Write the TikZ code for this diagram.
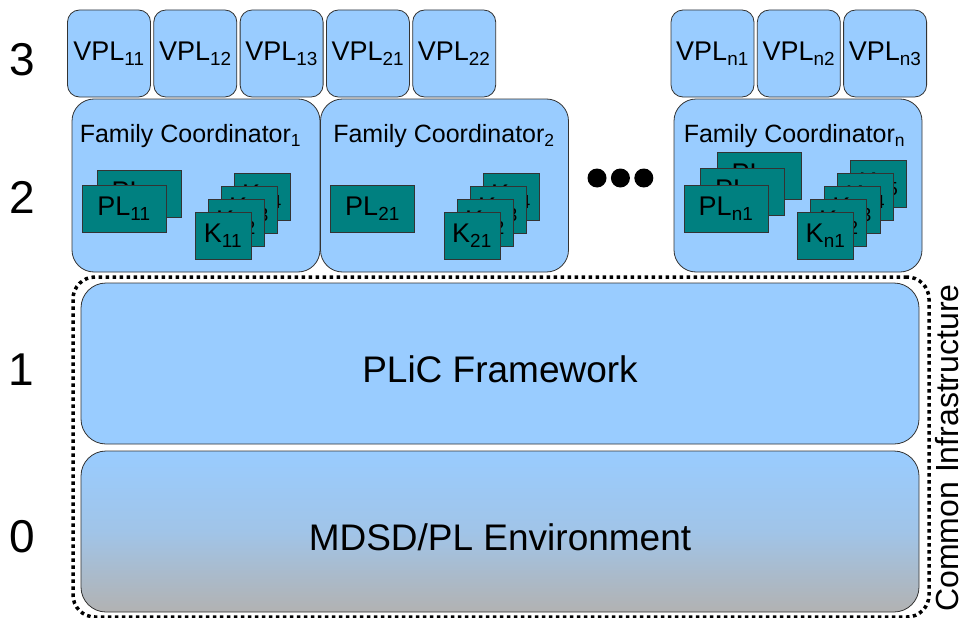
\documentclass[tikz,border=0pt]{standalone}
\usepackage{fontspec}
\setmainfont{Liberation Sans}
\usepackage{tikz}
\usetikzlibrary{positioning}
\definecolor{plblue}{RGB}{153,204,255}
\definecolor{plteal}{RGB}{0,128,128}
\definecolor{plgrey}{RGB}{178,178,178}

\begin{document}
\begin{tikzpicture}[x=1pt, y=-1pt,
  vpl/.style={rectangle, rounded corners=12pt, draw=black!80, line width=0.8pt, fill=plblue,
              minimum width=83pt, minimum height=87pt, inner sep=0pt, font=\fontsize{27}{30}\selectfont},
  fam/.style={rectangle, rounded corners=22pt, draw=black!80, line width=0.8pt, fill=plblue,
              minimum width=248pt, minimum height=173pt, inner sep=0pt},
  famlabel/.style={anchor=base west, inner sep=0pt, font=\fontsize{25}{28}\selectfont},
  pltile/.style={rectangle, draw=black!80, line width=0.8pt, fill=plteal,
              minimum width=84pt, minimum height=47pt, inner sep=0pt, font=\fontsize{27}{30}\selectfont},
  ktile/.style={pltile, minimum width=56pt},
  layer/.style={rectangle, rounded corners=25pt, draw=black!80, line width=0.8pt, fill=plblue,
              minimum width=838pt, minimum height=161pt, text height=38pt, text depth=0pt,
              font=\fontsize{37}{40}\selectfont},
  lvl/.style={font=\fontsize{46}{48}\selectfont, inner sep=0pt},
  dotnode/.style={circle, fill=black, minimum size=19pt, inner sep=0pt}]
\useasboundingbox (0,0) rectangle (964,618);

% level 3: VPLs
\node[vpl] (v11) at (109,53.5) {VPL\textsubscript{11}};
\node[vpl, right=2.5pt of v11] (v12) {VPL\textsubscript{12}};
\node[vpl, right=2.5pt of v12] (v13) {VPL\textsubscript{13}};
\node[vpl, right=2.5pt of v13] (v21) {VPL\textsubscript{21}};
\node[vpl, right=2.5pt of v21] (v22) {VPL\textsubscript{22}};
\node[vpl] (vn1) at (712.5,53.5) {VPL\textsubscript{n1}};
\node[vpl, right=2.5pt of vn1] (vn2) {VPL\textsubscript{n2}};
\node[vpl, right=2.5pt of vn2] (vn3) {VPL\textsubscript{n3}};

% level 2: family coordinators
\node[fam] (fc1) at (196,185.5) {};
\node[fam] (fc2) at (444.5,185.5) {};
\node[fam] (fcn) at (798,185.5) {};
\node[famlabel] (fl1) at ([shift={(8,44)}]fc1.north west) {Family Coordinator\textsubscript{1}};
\node[famlabel] (fl2) at ([shift={(13,44)}]fc2.north west) {Family Coordinator\textsubscript{2}};
\node[famlabel] (fln) at ([shift={(10,44)}]fcn.north west) {Family Coordinator\textsubscript{n}};

% product lines and kits
\node[pltile] (pl12) at ([shift={(-57,8)}]fc1.center) {PL\textsubscript{12}};
\node[pltile] (pl11) at ([shift={(-72,23)}]fc1.center) {PL\textsubscript{11}};
\foreach \i/\s in {3/14,2/13,1/12,0/11}
  \node[ktile] (k\s) at ([shift={(27+13*\i,50-13*\i)}]fc1.center) {K\textsubscript{\s}};

\node[pltile] (pl21) at ([shift={(-72,23)}]fc2.center) {PL\textsubscript{21}};
\foreach \i/\s in {3/24,2/23,1/22,0/21}
  \node[ktile] (k\s) at ([shift={(27.5+13*\i,50-13*\i)}]fc2.center) {K\textsubscript{\s}};

\foreach \i/\s in {2/n3,1/n2,0/n1}
  \node[pltile] (pl\s) at ([shift={(-72+16.5*\i,23-16.5*\i)}]fcn.center) {PL\textsubscript{\s}};
\foreach \i/\s in {4/n5,3/n4,2/n3,1/n2,0/n1}
  \node[ktile] (k\s) at ([shift={(27.5+13.3*\i,50-12.8*\i)}]fcn.center) {K\textsubscript{\s}};

% ellipsis
\node[dotnode] (d1) at (597,178) {};
\node[dotnode, right=4pt of d1] (d2) {};
\node[dotnode, right=4pt of d2] (d3) {};

% levels 1 and 0
\node[rectangle, rounded corners=22pt, draw=black, line width=3.5pt, dash pattern=on 3.5pt off 3.5pt,
      minimum width=856pt, minimum height=340pt] (infra) at (501,447) {};
\node[layer] (plic) at (500,363.5) {PLiC Framework};
\node[layer, fill=none, top color=plblue, bottom color=plgrey, middle color=plblue!70!plgrey] (mdsd) at (500,531.5) {MDSD/PL Environment};
\node[rotate=90, anchor=base, inner sep=0pt, font=\fontsize{32}{34}\selectfont] (infralabel) at (958,448) {Common Infrastructure};

% level numbers
\node[lvl] (n3) at (22,60) {3};
\node[lvl] (n2) at (22,197) {2};
\node[lvl] (n1) at (21,370) {1};
\node[lvl] (n0) at (22,537) {0};
\end{tikzpicture}
\end{document}
